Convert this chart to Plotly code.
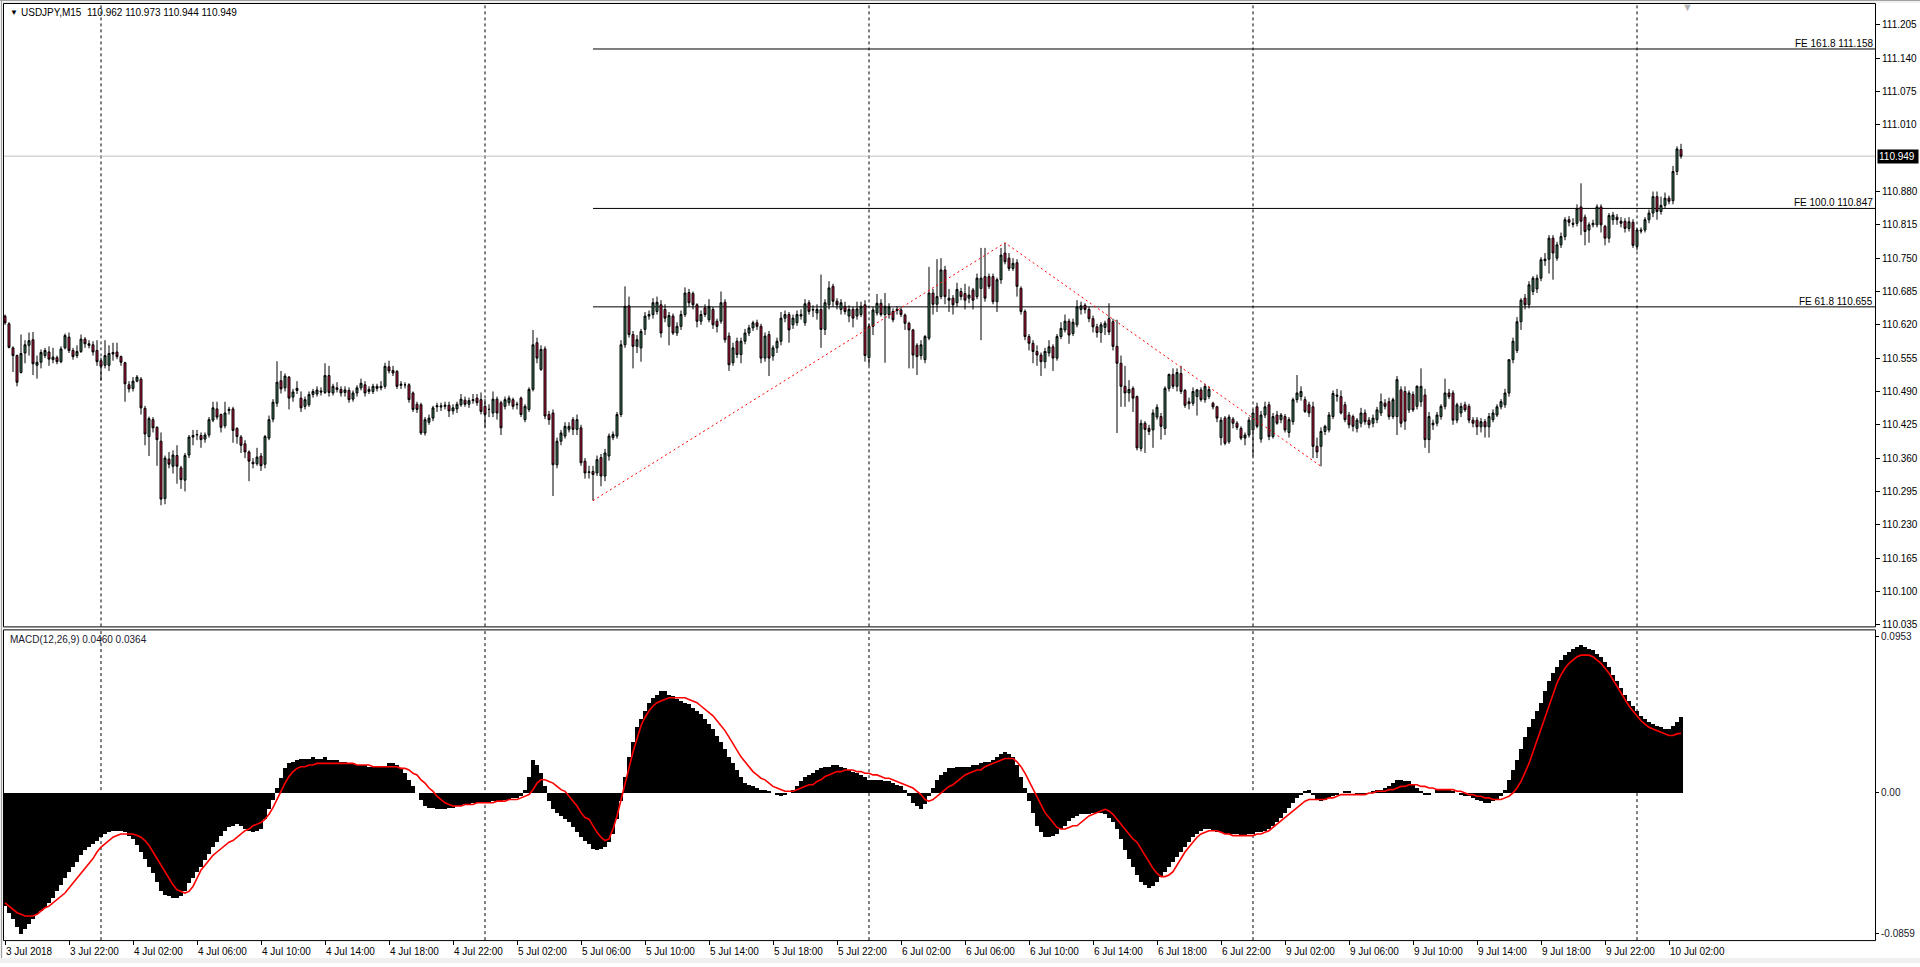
import plotly.graph_objects as go

# ---------------- DATA (USDJPY M15, bar 0 = 3 Jul 2018 18:00) ----------------
open_ = [
110.637,110.622,110.575,110.560,110.527,110.565,110.580,110.591,110.541,110.547,
110.560,110.567,110.552,110.556,110.548,110.575,110.596,110.570,110.560,110.568,
110.592,110.583,110.581,110.570,110.550,110.541,110.541,110.566,110.567,110.558,
110.546,110.503,110.496,110.510,110.514,110.457,110.402,110.435,110.420,110.393,
110.281,110.358,110.344,110.365,110.341,110.317,110.366,110.401,110.405,110.404,
110.397,110.405,110.434,110.456,110.445,110.423,110.453,110.456,110.418,110.401,
110.388,110.372,110.352,110.349,110.364,110.348,110.399,110.436,110.467,110.511,
110.497,110.518,110.479,110.492,110.477,110.461,110.464,110.484,110.485,110.491,
110.488,110.521,110.487,110.497,110.494,110.488,110.492,110.475,110.487,110.497,
110.503,110.490,110.490,110.500,110.497,110.500,110.538,110.531,110.529,110.502,
110.503,110.503,110.487,110.465,110.464,110.409,110.430,110.438,110.460,110.462,
110.461,110.463,110.452,110.456,110.464,110.473,110.465,110.472,110.477,110.474,
110.461,110.455,110.448,110.475,110.468,110.461,110.468,110.474,110.464,110.477,
110.435,110.455,110.494,110.585,110.533,110.573,110.445,110.448,110.347,110.393,
110.403,110.416,110.435,110.416,110.419,110.354,110.332,110.334,110.331,110.361,
110.325,110.364,110.400,110.403,110.445,110.581,110.657,110.601,110.578,110.575,
110.611,110.637,110.640,110.646,110.659,110.650,110.617,110.637,110.604,110.617,
110.640,110.683,110.681,110.659,110.627,110.653,110.630,110.650,110.627,110.627,
110.664,110.598,110.546,110.588,110.562,110.588,110.604,110.614,110.624,110.617,
110.555,110.601,110.559,110.575,110.588,110.633,110.640,110.620,110.624,110.637,
110.624,110.663,110.650,110.643,110.650,110.611,110.659,110.695,110.666,110.650,
110.656,110.637,110.650,110.637,110.640,110.659,110.556,110.617,110.643,110.662,
110.640,110.640,110.646,110.648,110.649,110.639,110.623,110.610,110.580,110.560,
110.552,110.594,110.682,110.660,110.675,110.727,110.668,110.672,110.663,110.685,
110.681,110.672,110.688,110.675,110.691,110.714,110.714,110.714,110.665,110.708,
110.760,110.750,110.730,110.741,110.691,110.646,110.597,110.584,110.568,110.561,
110.548,110.565,110.577,110.555,110.597,110.610,110.627,110.603,110.620,110.650,
110.658,110.650,110.632,110.616,110.605,110.615,110.632,110.626,110.578,110.545,
110.500,110.487,110.496,110.480,110.379,110.428,110.418,110.415,110.440,110.441,
110.418,110.496,110.523,110.500,110.525,110.492,110.470,110.467,110.480,110.493,
110.474,110.480,110.467,110.460,110.400,110.438,110.392,110.436,110.428,110.418,
110.399,110.405,110.415,110.460,110.397,110.444,110.464,110.402,110.444,110.435,
110.441,110.410,110.431,110.474,110.480,110.474,110.464,110.460,110.383,110.383,
110.412,110.415,110.441,110.483,110.480,110.464,110.444,110.441,110.418,110.428,
110.448,110.434,110.428,110.435,110.448,110.467,110.470,110.441,110.441,110.493,
110.490,110.454,110.484,110.461,110.470,110.483,110.396,110.425,110.428,110.441,
110.461,110.487,110.487,110.434,110.448,110.464,110.461,110.434,110.434,110.421,
110.431,110.421,110.435,110.444,110.460,110.464,110.487,110.552,110.570,110.626,
110.672,110.659,110.685,110.690,110.711,110.745,110.748,110.789,110.750,110.776,
110.792,110.825,110.818,110.818,110.850,110.830,110.805,110.815,110.815,110.850,
110.812,110.789,110.825,110.830,110.822,110.822,110.808,110.820,110.773,110.805,
110.805,110.825,110.838,110.870,110.841,110.853,110.867,110.862,110.919,110.962,
]
high = [
110.640,110.625,110.578,110.562,110.601,110.590,110.605,110.606,110.560,110.572,
110.575,110.578,110.575,110.560,110.578,110.603,110.605,110.575,110.580,110.601,
110.596,110.590,110.588,110.590,110.556,110.590,110.580,110.585,110.585,110.560,
110.548,110.510,110.518,110.522,110.518,110.462,110.441,110.440,110.422,110.410,
110.365,110.372,110.375,110.385,110.345,110.370,110.405,110.415,110.415,110.410,
110.410,110.440,110.470,110.470,110.447,110.470,110.460,110.460,110.420,110.405,
110.395,110.375,110.360,110.380,110.370,110.405,110.443,110.475,110.549,110.530,
110.525,110.520,110.495,110.510,110.490,110.480,110.490,110.495,110.500,110.498,
110.545,110.540,110.505,110.508,110.500,110.500,110.498,110.492,110.502,110.515,
110.510,110.500,110.505,110.505,110.510,110.546,110.550,110.540,110.532,110.510,
110.508,110.506,110.490,110.470,110.468,110.440,110.445,110.462,110.468,110.468,
110.470,110.470,110.465,110.470,110.485,110.480,110.478,110.485,110.485,110.488,
110.475,110.465,110.490,110.480,110.472,110.480,110.482,110.478,110.470,110.480,
110.465,110.498,110.610,110.595,110.580,110.578,110.452,110.455,110.400,110.415,
110.430,110.430,110.440,110.445,110.425,110.360,110.345,110.345,110.365,110.368,
110.378,110.408,110.412,110.450,110.590,110.695,110.675,110.608,110.600,110.612,
110.645,110.648,110.672,110.675,110.668,110.660,110.645,110.642,110.625,110.648,
110.693,110.690,110.685,110.662,110.648,110.660,110.670,110.655,110.632,110.685,
110.670,110.605,110.585,110.595,110.595,110.612,110.620,110.628,110.630,110.622,
110.605,110.608,110.580,110.595,110.645,110.648,110.645,110.640,110.648,110.650,
110.670,110.668,110.658,110.660,110.718,110.670,110.705,110.700,110.672,110.670,
110.665,110.658,110.655,110.665,110.665,110.668,110.622,110.655,110.680,110.670,
110.682,110.662,110.652,110.656,110.654,110.642,110.626,110.612,110.584,110.590,
110.600,110.733,110.690,110.748,110.750,110.735,110.690,110.678,110.702,110.692,
110.700,110.695,110.692,110.720,110.770,110.770,110.720,110.720,110.712,110.770,
110.780,110.760,110.750,110.748,110.695,110.650,110.602,110.590,110.580,110.566,
110.575,110.590,110.582,110.602,110.625,110.640,110.632,110.632,110.668,110.665,
110.662,110.655,110.638,110.622,110.625,110.628,110.662,110.632,110.630,110.560,
110.540,110.512,110.500,110.482,110.435,110.432,110.425,110.455,110.465,110.448,
110.500,110.525,110.535,110.535,110.540,110.495,110.478,110.498,110.495,110.498,
110.505,110.500,110.470,110.462,110.440,110.442,110.445,110.440,110.432,110.422,
110.410,110.440,110.455,110.468,110.452,110.470,110.470,110.448,110.452,110.448,
110.446,110.440,110.478,110.522,110.500,110.480,110.470,110.470,110.400,110.420,
110.425,110.450,110.492,110.495,110.492,110.470,110.450,110.445,110.438,110.458,
110.455,110.440,110.445,110.460,110.486,110.475,110.478,110.478,110.520,110.500,
110.500,110.492,110.490,110.502,110.535,110.495,110.450,110.435,110.450,110.465,
110.515,110.495,110.492,110.468,110.468,110.470,110.466,110.440,110.440,110.438,
110.436,110.448,110.455,110.465,110.475,110.495,110.552,110.595,110.635,110.672,
110.680,110.705,110.715,110.718,110.752,110.760,110.795,110.795,110.782,110.800,
110.830,110.832,110.828,110.855,110.896,110.835,110.820,110.825,110.855,110.855,
110.815,110.838,110.840,110.836,110.830,110.828,110.830,110.826,110.808,110.810,
110.830,110.845,110.880,110.880,110.870,110.878,110.872,110.930,110.968,110.973,
]
low = [
110.620,110.574,110.528,110.500,110.525,110.545,110.560,110.522,110.515,110.535,
110.555,110.540,110.545,110.543,110.545,110.572,110.565,110.552,110.555,110.565,
110.575,110.574,110.560,110.540,110.511,110.535,110.530,110.550,110.553,110.540,
110.470,110.488,110.490,110.508,110.445,110.385,110.364,110.410,110.345,110.268,
110.270,110.340,110.330,110.310,110.300,110.295,110.360,110.385,110.395,110.380,
110.390,110.400,110.430,110.435,110.410,110.418,110.445,110.390,110.388,110.370,
110.360,110.315,110.340,110.345,110.335,110.340,110.395,110.430,110.460,110.486,
110.490,110.455,110.470,110.485,110.450,110.455,110.460,110.478,110.480,110.482,
110.485,110.480,110.482,110.488,110.480,110.480,110.468,110.470,110.480,110.492,
110.480,110.485,110.485,110.490,110.492,110.495,110.525,110.520,110.495,110.495,
110.496,110.468,110.450,110.448,110.405,110.404,110.425,110.432,110.450,110.452,
110.455,110.440,110.445,110.448,110.460,110.460,110.458,110.466,110.462,110.445,
110.420,110.440,110.440,110.435,110.405,110.455,110.462,110.455,110.455,110.440,
110.430,110.450,110.490,110.545,110.530,110.436,110.425,110.286,110.340,110.385,
110.398,110.410,110.405,110.405,110.345,110.320,110.320,110.277,110.325,110.305,
110.315,110.355,110.395,110.398,110.440,110.575,110.595,110.535,110.565,110.548,
110.600,110.630,110.632,110.640,110.595,110.625,110.580,110.600,110.598,110.610,
110.635,110.655,110.650,110.615,110.620,110.635,110.625,110.612,110.605,110.622,
110.585,110.530,110.540,110.555,110.545,110.582,110.598,110.608,110.610,110.545,
110.548,110.520,110.550,110.565,110.580,110.625,110.585,110.612,110.618,110.630,
110.618,110.640,110.635,110.630,110.575,110.600,110.650,110.655,110.650,110.640,
110.640,110.625,110.615,110.630,110.635,110.548,110.540,110.600,110.638,110.636,
110.546,110.632,110.625,110.640,110.635,110.610,110.535,110.535,110.522,110.552,
110.545,110.590,110.640,110.645,110.670,110.660,110.645,110.640,110.655,110.668,
110.650,110.662,110.650,110.670,110.590,110.665,110.690,110.660,110.645,110.700,
110.738,110.725,110.725,110.675,110.640,110.590,110.570,110.545,110.540,110.520,
110.535,110.558,110.530,110.550,110.592,110.605,110.583,110.598,110.615,110.640,
110.642,110.625,110.605,110.595,110.585,110.600,110.600,110.570,110.409,110.460,
110.460,110.470,110.450,110.375,110.373,110.370,110.405,110.380,110.435,110.396,
110.405,110.490,110.495,110.490,110.485,110.458,110.455,110.462,110.443,110.470,
110.468,110.475,110.455,110.430,110.385,110.385,110.388,110.418,110.415,110.395,
110.385,110.400,110.363,110.418,110.390,110.438,110.395,110.398,110.425,110.428,
110.410,110.400,110.425,110.468,110.472,110.448,110.440,110.360,110.360,110.344,
110.405,110.410,110.436,110.470,110.445,110.430,110.418,110.412,110.410,110.420,
110.425,110.418,110.420,110.428,110.442,110.455,110.435,110.436,110.405,110.420,
110.415,110.448,110.450,110.455,110.460,110.380,110.370,110.415,110.422,110.435,
110.455,110.475,110.425,110.428,110.440,110.450,110.428,110.420,110.405,110.410,
110.400,110.400,110.430,110.440,110.455,110.458,110.480,110.545,110.565,110.610,
110.650,110.652,110.678,110.682,110.705,110.735,110.720,110.708,110.745,110.770,
110.785,110.812,110.810,110.812,110.795,110.775,110.780,110.810,110.810,110.800,
110.775,110.780,110.815,110.815,110.810,110.800,110.802,110.770,110.765,110.798,
110.800,110.818,110.830,110.825,110.835,110.848,110.855,110.855,110.912,110.944,
]
close = [
110.624,110.576,110.560,110.508,110.564,110.581,110.589,110.544,110.547,110.566,
110.570,110.553,110.557,110.548,110.573,110.599,110.570,110.558,110.568,110.592,
110.583,110.580,110.567,110.548,110.539,110.560,110.564,110.563,110.558,110.547,
110.505,110.495,110.510,110.518,110.458,110.407,110.437,110.419,110.396,110.280,
110.360,110.348,110.366,110.344,110.318,110.365,110.401,110.404,110.406,110.396,
110.405,110.435,110.458,110.440,110.420,110.448,110.455,110.414,110.402,110.385,
110.372,110.354,110.349,110.362,110.345,110.402,110.435,110.469,110.508,110.495,
110.520,110.477,110.489,110.496,110.458,110.474,110.484,110.490,110.493,110.489,
110.521,110.488,110.500,110.494,110.487,110.493,110.474,110.487,110.497,110.506,
110.487,110.494,110.500,110.496,110.500,110.539,110.530,110.526,110.500,110.504,
110.503,110.474,110.455,110.455,110.409,110.435,110.438,110.458,110.462,110.460,
110.463,110.452,110.458,110.465,110.475,110.465,110.472,110.474,110.468,110.451,
110.445,110.455,110.475,110.448,110.419,110.474,110.477,110.461,110.465,110.445,
110.461,110.494,110.581,110.555,110.572,110.442,110.435,110.347,110.393,110.409,
110.422,110.422,110.416,110.435,110.351,110.331,110.333,110.328,110.357,110.325,
110.370,110.403,110.406,110.445,110.581,110.656,110.601,110.578,110.591,110.607,
110.637,110.640,110.663,110.664,110.604,110.633,110.638,110.604,110.617,110.640,
110.682,110.663,110.659,110.627,110.640,110.640,110.656,110.620,110.617,110.663,
110.591,110.542,110.575,110.562,110.588,110.604,110.614,110.624,110.617,110.555,
110.598,110.555,110.575,110.588,110.633,110.640,110.610,110.633,110.640,110.640,
110.661,110.646,110.649,110.650,110.611,110.663,110.692,110.666,110.659,110.663,
110.646,110.650,110.633,110.651,110.656,110.560,110.617,110.649,110.662,110.640,
110.656,110.655,110.630,110.650,110.640,110.623,110.610,110.561,110.558,110.581,
110.597,110.682,110.660,110.675,110.727,110.675,110.672,110.659,110.689,110.675,
110.668,110.678,110.668,110.711,110.711,110.672,110.695,110.665,110.708,110.756,
110.743,110.730,110.740,110.695,110.646,110.597,110.584,110.568,110.561,110.548,
110.568,110.577,110.555,110.597,110.613,110.627,110.600,110.625,110.655,110.657,
110.650,110.632,110.616,110.605,110.620,110.623,110.606,110.578,110.545,110.500,
110.487,110.494,110.477,110.380,110.428,110.416,110.412,110.448,110.459,110.422,
110.496,110.523,110.500,110.527,110.490,110.463,110.466,110.490,110.493,110.474,
110.500,110.494,110.460,110.438,110.434,110.389,110.440,110.428,110.420,110.399,
110.405,110.434,110.448,110.422,110.444,110.460,110.402,110.441,110.428,110.444,
110.415,110.435,110.474,110.487,110.490,110.451,110.448,110.383,110.372,110.412,
110.422,110.444,110.486,110.481,110.448,110.435,110.425,110.422,110.434,110.448,
110.431,110.425,110.438,110.454,110.470,110.461,110.441,110.474,110.513,110.428,
110.432,110.487,110.454,110.500,110.500,110.396,110.441,110.428,110.444,110.461,
110.487,110.480,110.434,110.464,110.461,110.454,110.434,110.428,110.421,110.431,
110.421,110.441,110.448,110.460,110.470,110.487,110.552,110.588,110.626,110.668,
110.659,110.698,110.711,110.711,110.747,110.748,110.789,110.760,110.776,110.792,
110.825,110.820,110.816,110.847,110.822,110.802,110.815,110.818,110.850,110.815,
110.789,110.833,110.834,110.825,110.818,110.808,110.821,110.775,110.805,110.803,
110.825,110.838,110.870,110.841,110.853,110.867,110.861,110.919,110.963,110.949,
]
macd_main = [
-0.069,-0.073,-0.077,-0.082,-0.086,-0.083,-0.080,-0.077,-0.074,-0.072,
-0.070,-0.067,-0.064,-0.060,-0.056,-0.052,-0.048,-0.045,-0.042,-0.038,
-0.035,-0.033,-0.031,-0.029,-0.027,-0.025,-0.024,-0.023,-0.023,-0.023,
-0.024,-0.026,-0.028,-0.032,-0.036,-0.040,-0.045,-0.049,-0.054,-0.060,
-0.062,-0.063,-0.064,-0.064,-0.063,-0.060,-0.055,-0.052,-0.048,-0.045,
-0.041,-0.037,-0.033,-0.030,-0.026,-0.023,-0.021,-0.020,-0.019,-0.020,
-0.022,-0.023,-0.024,-0.023,-0.022,-0.016,-0.010,-0.004,0.003,0.009,
0.015,0.018,0.019,0.020,0.021,0.021,0.021,0.022,0.021,0.021,
0.022,0.020,0.020,0.020,0.019,0.019,0.018,0.018,0.017,0.017,
0.017,0.016,0.016,0.016,0.016,0.016,0.018,0.018,0.017,0.015,
0.012,0.008,0.004,0.000,-0.004,-0.008,-0.009,-0.009,-0.010,-0.010,
-0.010,-0.009,-0.009,-0.008,-0.008,-0.007,-0.007,-0.006,-0.006,-0.006,
-0.006,-0.006,-0.005,-0.005,-0.005,-0.004,-0.004,-0.003,-0.003,-0.002,
0.002,0.010,0.020,0.017,0.012,0.004,-0.005,-0.010,-0.012,-0.014,
-0.016,-0.018,-0.021,-0.024,-0.027,-0.029,-0.031,-0.034,-0.035,-0.034,
-0.033,-0.030,-0.025,-0.016,-0.005,0.010,0.022,0.031,0.040,0.045,
0.050,0.055,0.058,0.060,0.062,0.062,0.060,0.059,0.057,0.056,
0.055,0.054,0.052,0.050,0.048,0.045,0.042,0.039,0.035,0.031,
0.027,0.022,0.018,0.014,0.010,0.006,0.005,0.004,0.003,0.002,
0.002,0.001,0.000,-0.001,-0.002,-0.001,0.000,0.002,0.004,0.007,
0.010,0.011,0.012,0.014,0.015,0.016,0.016,0.017,0.017,0.016,
0.015,0.014,0.013,0.012,0.011,0.010,0.008,0.008,0.008,0.008,
0.007,0.007,0.006,0.005,0.004,0.002,-0.002,-0.006,-0.008,-0.010,
-0.007,-0.002,0.003,0.008,0.011,0.013,0.015,0.015,0.016,0.016,
0.016,0.016,0.017,0.017,0.018,0.019,0.019,0.020,0.022,0.024,
0.025,0.024,0.022,0.017,0.010,0.003,-0.005,-0.012,-0.020,-0.024,
-0.027,-0.027,-0.026,-0.025,-0.022,-0.020,-0.017,-0.015,-0.014,-0.013,
-0.013,-0.013,-0.012,-0.012,-0.012,-0.013,-0.015,-0.018,-0.022,-0.028,
-0.035,-0.040,-0.045,-0.050,-0.054,-0.056,-0.058,-0.057,-0.054,-0.051,
-0.048,-0.045,-0.042,-0.039,-0.036,-0.033,-0.030,-0.027,-0.025,-0.023,
-0.022,-0.022,-0.023,-0.024,-0.024,-0.025,-0.025,-0.025,-0.025,-0.026,
-0.026,-0.025,-0.025,-0.024,-0.024,-0.023,-0.022,-0.020,-0.018,-0.015,
-0.012,-0.009,-0.006,-0.003,-0.001,0.001,0.002,-0.001,-0.004,-0.005,
-0.004,-0.003,-0.002,-0.001,0.000,0.001,0.001,0.000,-0.001,-0.001,
-0.001,0.000,0.001,0.002,0.002,0.003,0.004,0.006,0.008,0.008,
0.007,0.007,0.005,0.003,0.001,-0.001,-0.001,0.000,0.002,0.002,
0.002,0.002,0.001,0.000,-0.001,-0.002,-0.002,-0.003,-0.004,-0.005,
-0.006,-0.006,-0.005,-0.004,-0.002,0.002,0.008,0.014,0.020,0.027,
0.034,0.040,0.045,0.050,0.055,0.062,0.068,0.073,0.077,0.081,
0.084,0.086,0.088,0.089,0.090,0.089,0.088,0.087,0.085,0.083,
0.080,0.077,0.072,0.068,0.064,0.060,0.056,0.053,0.050,0.047,
0.045,0.043,0.042,0.041,0.040,0.039,0.039,0.041,0.043,0.046,
]
macd_signal = [
-0.067,-0.069,-0.071,-0.073,-0.074,-0.075,-0.075,-0.075,-0.074,-0.072,
-0.070,-0.069,-0.067,-0.065,-0.063,-0.061,-0.058,-0.055,-0.052,-0.049,
-0.046,-0.043,-0.040,-0.036,-0.033,-0.031,-0.029,-0.027,-0.026,-0.025,
-0.025,-0.025,-0.025,-0.026,-0.027,-0.029,-0.032,-0.036,-0.040,-0.044,
-0.048,-0.052,-0.056,-0.059,-0.060,-0.061,-0.060,-0.057,-0.052,-0.047,
-0.044,-0.041,-0.038,-0.036,-0.034,-0.032,-0.030,-0.029,-0.027,-0.025,
-0.023,-0.022,-0.020,-0.019,-0.018,-0.016,-0.013,-0.009,-0.004,0.002,
0.006,0.010,0.013,0.015,0.016,0.016,0.017,0.017,0.018,0.018,
0.018,0.018,0.018,0.018,0.018,0.018,0.018,0.018,0.017,0.017,
0.017,0.017,0.016,0.016,0.016,0.016,0.016,0.016,0.016,0.015,
0.015,0.014,0.012,0.011,0.008,0.006,0.003,0.001,-0.002,-0.004,
-0.006,-0.007,-0.008,-0.008,-0.008,-0.007,-0.007,-0.007,-0.006,-0.006,
-0.006,-0.006,-0.006,-0.005,-0.005,-0.005,-0.004,-0.004,-0.004,-0.003,
-0.002,-0.001,0.002,0.006,0.008,0.008,0.007,0.006,0.004,0.002,
0.001,-0.002,-0.005,-0.008,-0.012,-0.015,-0.016,-0.020,-0.024,-0.027,
-0.029,-0.028,-0.022,-0.014,-0.004,0.006,0.015,0.025,0.033,0.041,
0.046,0.050,0.053,0.055,0.056,0.057,0.058,0.058,0.058,0.058,
0.058,0.057,0.056,0.055,0.053,0.051,0.049,0.047,0.044,0.041,
0.038,0.034,0.030,0.026,0.022,0.019,0.016,0.013,0.011,0.009,
0.008,0.006,0.004,0.003,0.002,0.001,0.001,0.001,0.002,0.003,
0.004,0.005,0.005,0.007,0.008,0.010,0.011,0.012,0.013,0.013,
0.014,0.014,0.014,0.013,0.013,0.012,0.012,0.011,0.011,0.010,
0.009,0.009,0.008,0.007,0.006,0.005,0.004,0.003,0.001,-0.001,
-0.004,-0.005,-0.004,-0.002,0.000,0.002,0.004,0.005,0.007,0.009,
0.011,0.012,0.013,0.014,0.014,0.016,0.017,0.018,0.019,0.020,
0.021,0.021,0.021,0.019,0.016,0.012,0.007,0.003,-0.002,-0.007,
-0.012,-0.015,-0.018,-0.021,-0.022,-0.022,-0.021,-0.020,-0.020,-0.018,
-0.016,-0.014,-0.013,-0.012,-0.011,-0.010,-0.011,-0.013,-0.016,-0.019,
-0.022,-0.025,-0.028,-0.030,-0.034,-0.038,-0.042,-0.046,-0.049,-0.051,
-0.051,-0.050,-0.048,-0.044,-0.040,-0.036,-0.033,-0.030,-0.027,-0.025,
-0.024,-0.023,-0.023,-0.023,-0.024,-0.025,-0.025,-0.026,-0.026,-0.026,
-0.026,-0.026,-0.026,-0.025,-0.025,-0.024,-0.023,-0.021,-0.019,-0.017,
-0.015,-0.013,-0.011,-0.009,-0.007,-0.005,-0.004,-0.004,-0.004,-0.004,
-0.004,-0.003,-0.003,-0.002,-0.001,-0.001,-0.001,-0.001,-0.001,-0.001,
-0.001,0.000,0.000,0.001,0.001,0.001,0.002,0.002,0.003,0.004,
0.004,0.005,0.005,0.005,0.004,0.004,0.003,0.003,0.002,0.002,
0.002,0.002,0.002,0.001,0.001,0.000,-0.001,-0.001,-0.002,-0.002,
-0.003,-0.003,-0.004,-0.004,-0.004,-0.003,-0.002,0.000,0.003,0.007,
0.012,0.018,0.025,0.032,0.040,0.047,0.054,0.061,0.067,0.072,
0.076,0.079,0.081,0.083,0.084,0.084,0.084,0.083,0.081,0.079,
0.076,0.073,0.069,0.065,0.061,0.057,0.053,0.050,0.047,0.044,
0.042,0.040,0.039,0.038,0.037,0.036,0.035,0.035,0.036,0.0364,
]
time_tick_bars = [0, 16, 32, 48, 64, 80, 96, 112, 128, 144, 160, 176, 192, 208,
                  224, 240, 256, 272, 288, 304, 320, 336, 352, 368, 384, 400, 416]
time_tick_labels = ["3 Jul 2018", "3 Jul 22:00", "4 Jul 02:00", "4 Jul 06:00", "4 Jul 10:00",
                    "4 Jul 14:00", "4 Jul 18:00", "4 Jul 22:00", "5 Jul 02:00", "5 Jul 06:00",
                    "5 Jul 10:00", "5 Jul 14:00", "5 Jul 18:00", "5 Jul 22:00", "6 Jul 02:00",
                    "6 Jul 06:00", "6 Jul 10:00", "6 Jul 14:00", "6 Jul 18:00", "6 Jul 22:00",
                    "9 Jul 02:00", "9 Jul 06:00", "9 Jul 10:00", "9 Jul 14:00", "9 Jul 18:00",
                    "9 Jul 22:00", "10 Jul 02:00"]
day_start_bars = [24, 120, 216, 312, 408]
price_ticks = [110.035, 110.100, 110.165, 110.230, 110.295, 110.360, 110.425, 110.490,
               110.555, 110.620, 110.685, 110.750, 110.815, 110.880, 111.010,
               111.075, 111.140, 111.205]
macd_ticks = [0.0953, 0.0, -0.0859]
macd_tick_text = ["0.0953", "0.00", "-0.0859"]
fe_names = ["FE 161.8", "FE 100.0", "FE 61.8"]
fe_levels = [111.158, 110.847, 110.655]
fe_point_bars = [147, 250, 329]
fe_point_prices = [110.277, 110.780, 110.344]
last_bar = {"open": 110.962, "high": 110.973, "low": 110.944, "close": 110.949}
macd_last = [0.0460, 0.0364]

n = len(close)
for name, arr in [("open", open_), ("high", high), ("low", low), ("macd", macd_main), ("signal", macd_signal)]:
    if len(arr) != n:
        raise SystemExit(f"length mismatch {name}: {len(arr)} vs {n}")
bars = list(range(n))

# ---------------- LAYOUT GEOMETRY ----------------
W, H = 1920, 967
PL, PR = 4, 1875          # plot area left/right (px)
MT, MB = 4, 629           # main pane top/bottom
ST, SB = 633, 944         # MACD pane top/bottom
FONT = "Tahoma, 'Liberation Sans', Arial, sans-serif"
BULL = "#3a7a57"
BEAR = "#c4163f"

def fx(p):
    return p / W

def fy(p):
    return 1 - p / H

x_range = [-0.25, -0.25 + (PR - PL) / 4.0]
y_range = [110.0317, 111.2458]
y2_range = [-0.0897, 0.0991]

fig = go.Figure()
fig.add_trace(go.Candlestick(
    x=bars, open=open_, high=high, low=low, close=close,
    increasing=dict(fillcolor=BULL, line=dict(color="black", width=1)),
    decreasing=dict(fillcolor=BEAR, line=dict(color="black", width=1)),
    whiskerwidth=0, hoverinfo="skip", xaxis="x", yaxis="y", showlegend=False))

# Fibonacci expansion anchor lines (red dotted)
fig.add_trace(go.Scatter(x=fe_point_bars, y=fe_point_prices, mode="lines",
                         line=dict(color="red", width=1, dash="2px,3px"),
                         hoverinfo="skip", xaxis="x", yaxis="y", showlegend=False))

fig.add_trace(go.Bar(x=bars, y=macd_main, width=1.0,
                     marker=dict(color="black", line=dict(width=0)),
                     hoverinfo="skip", xaxis="x", yaxis="y2", showlegend=False))
fig.add_trace(go.Scatter(x=bars, y=macd_signal, mode="lines",
                         line=dict(color="#ff0000", width=1.6),
                         hoverinfo="skip", xaxis="x", yaxis="y2", showlegend=False))

shapes = []
for b in day_start_bars:
    for yr in ("y domain", "y2 domain"):
        shapes.append(dict(type="line", xref="x", yref=yr, x0=b, x1=b, y0=0, y1=1,
                           line=dict(color="black", width=1, dash="3px,3px"), layer="below"))
for lvl in fe_levels:
    shapes.append(dict(type="line", xref="x", yref="y", x0=fe_point_bars[0], x1=x_range[1],
                       y0=lvl, y1=lvl, line=dict(color="black", width=1), layer="below"))
shapes.append(dict(type="line", xref="x", yref="y", x0=x_range[0], x1=x_range[1],
                   y0=last_bar["close"], y1=last_bar["close"],
                   line=dict(color="#c0c0c0", width=1), layer="below"))
shapes += [
    dict(type="rect", xref="paper", yref="paper", x0=0, x1=1, y0=fy(3), y1=1,
         fillcolor="#f0f0f0", line=dict(width=0)),
    dict(type="rect", xref="paper", yref="paper", x0=0, x1=fx(3), y0=0, y1=1,
         fillcolor="#f0f0f0", line=dict(width=0)),
    dict(type="line", xref="paper", yref="paper", x0=fx(1.5), x1=fx(1.5), y0=0, y1=1,
         line=dict(color="#a0a0a0", width=1)),
    dict(type="line", xref="paper", yref="paper", x0=0, x1=1, y0=fy(0.5), y1=fy(0.5),
         line=dict(color="#a0a0a0", width=1)),
    dict(type="rect", xref="paper", yref="paper", x0=0, x1=1, y0=0, y1=fy(962),
         fillcolor="#f0f0f0", line=dict(width=0)),
    dict(type="rect", xref="paper", yref="paper", x0=fx(PL - 0.5), x1=fx(PR + 0.5),
         y0=fy(MB + 0.5), y1=fy(MT - 0.5), line=dict(color="black", width=1)),
    dict(type="rect", xref="paper", yref="paper", x0=fx(PL - 0.5), x1=fx(PR + 0.5),
         y0=fy(SB + 0.5), y1=fy(ST - 0.5), line=dict(color="black", width=1)),
]

annotations = []
for b, lab in zip(time_tick_bars, time_tick_labels):
    annotations.append(dict(x=b, xref="x", y=fy(955), yref="paper", text=lab,
                            xanchor="left", yanchor="middle", xshift=-1, showarrow=False,
                            font=dict(family=FONT, size=10, color="black")))
for nm, lvl in zip(fe_names, fe_levels):
    annotations.append(dict(x=fx(PR - 1), xref="paper", y=lvl, yref="y",
                            text=f"{nm} {lvl:.3f}", xanchor="right", yanchor="bottom",
                            showarrow=False, borderpad=0, yshift=-1,
                            font=dict(family=FONT, size=10, color="black")))
annotations.append(dict(x=fx(PR + 2), xref="paper", y=last_bar["close"], yref="y",
                        text=f"{last_bar['close']:.3f}", xanchor="left", yanchor="middle",
                        showarrow=False, bgcolor="black", borderpad=1, width=38, align="left",
                        font=dict(family=FONT, size=10, color="white")))
annotations.append(dict(x=fx(8), xref="paper", y=fy(12.5), yref="paper", text="\u25bc",
                        xanchor="left", yanchor="middle", showarrow=False,
                        font=dict(family=FONT, size=8, color="black")))
annotations.append(dict(x=fx(19), xref="paper", y=fy(12.5), yref="paper",
                        text="USDJPY,M15\u00a0\u00a0{:.3f} {:.3f} {:.3f} {:.3f}".format(
                            last_bar["open"], last_bar["high"], last_bar["low"], last_bar["close"]),
                        xanchor="left", yanchor="middle", showarrow=False,
                        font=dict(family=FONT, size=10, color="black")))
annotations.append(dict(x=fx(8), xref="paper", y=fy(642), yref="paper",
                        text="MACD(12,26,9) {:.4f} {:.4f}".format(*macd_last),
                        xanchor="left", yanchor="middle", showarrow=False,
                        font=dict(family=FONT, size=10, color="#1a1a2e")))
annotations.append(dict(x=fx(1687), xref="paper", y=fy(7), yref="paper", text="\u25bc",
                        xanchor="center", yanchor="middle", showarrow=False,
                        font=dict(family=FONT, size=11, color="#b4b4b4")))

fig.update_layout(
    width=W, height=H, margin=dict(l=0, r=0, t=0, b=0, pad=0),
    paper_bgcolor="white", plot_bgcolor="white",
    showlegend=False, bargap=0, dragmode=False, hovermode=False,
    font=dict(family=FONT, size=10, color="black"),
    xaxis=dict(domain=[fx(PL), fx(PR)], range=x_range, anchor="y2",
               showgrid=False, zeroline=False, showline=False,
               tickmode="array", tickvals=time_tick_bars, showticklabels=False,
               ticks="outside", ticklen=4, tickcolor="black", tickwidth=1,
               rangeslider=dict(visible=False), fixedrange=True),
    yaxis=dict(domain=[fy(MB), fy(MT)], range=y_range, side="right", anchor="x",
               showgrid=False, zeroline=False, showline=False,
               tickmode="array", tickvals=price_ticks, tickformat=".3f",
               ticks="outside", ticklen=4, tickcolor="black",
               tickfont=dict(family=FONT, size=10, color="black"), fixedrange=True),
    yaxis2=dict(domain=[fy(SB), fy(ST)], range=y2_range, side="right", anchor="x",
                showgrid=False, zeroline=False, showline=False,
                tickmode="array", tickvals=macd_ticks, ticktext=macd_tick_text,
                ticks="outside", ticklen=3, tickcolor="black",
                tickfont=dict(family=FONT, size=10, color="#1a1a2e"), fixedrange=True),
    shapes=shapes, annotations=annotations,
)

fig.write_html("out.html", config={"displayModeBar": False, "staticPlot": True},
               post_script="document.body.style.margin='0';document.body.style.overflow='hidden';")
